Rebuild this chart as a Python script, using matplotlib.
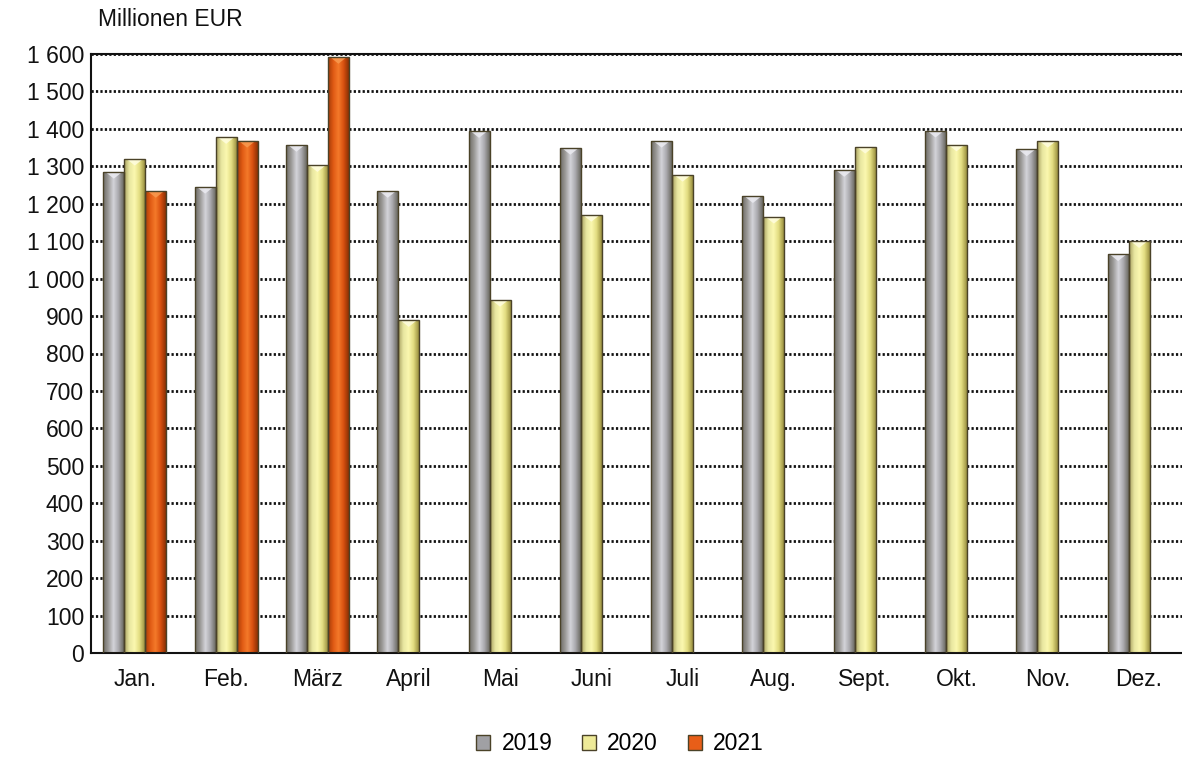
import numpy as np
import matplotlib
matplotlib.use("Agg")
import matplotlib.pyplot as plt
from matplotlib.colors import LinearSegmentedColormap
from matplotlib.patches import Patch, Polygon

months = ["Jan.", "Feb.", "März", "April", "Mai", "Juni", "Juli",
          "Aug.", "Sept.", "Okt.", "Nov.", "Dez."]
years = ["2019", "2020", "2021"]
v2019 = [1285, 1245, 1357, 1234, 1394, 1349, 1368, 1220, 1290, 1395, 1345, 1065]
v2020 = [1320, 1378, 1303, 889, 943, 1170, 1277, 1165, 1352, 1358, 1368, 1100]
v2021 = [1234, 1368, 1592]
yticks = list(range(0, 1601, 100))

# left-to-right shading for the 3D look of each series
shades = {
    "2019": ["#6e6c66", "#9c9a98", "#d4d4da", "#a8a8ac", "#6a6860"],
    "2020": ["#a8a060", "#e8e6a0", "#fbf8b0", "#e2dc80", "#9a9040"],
    "2021": ["#a43c08", "#e05a14", "#f47a2a", "#d85010", "#8a3004"],
}
bevel = {"2019": "#ececf2", "2020": "#fffde0", "2021": "#f89a50"}
base = {"2019": "#a0a0a4", "2020": "#eeea98", "2021": "#e85e18"}

plt.rcParams["font.family"] = ["Liberation Sans", "DejaVu Sans"]
fs = 16.5

fig = plt.figure(figsize=(11.82, 7.58), dpi=100)
ax = fig.add_axes([91 / 1182, 1 - 653 / 758, (1182 - 91) / 1182, (653 - 54) / 758])

x = np.arange(len(months))
w = 0.23
series = [("2019", v2019), ("2020", v2020), ("2021", v2021)]
grad = np.linspace(0, 1, 64).reshape(1, -1)
for i, (name, vals) in enumerate(series):
    xs = x[:len(vals)] + (i - 1) * w
    bars = ax.bar(xs, vals, width=w, color="none", edgecolor="#4a4228",
                  linewidth=1.0, zorder=4)
    cmap = LinearSegmentedColormap.from_list(name, shades[name])
    for b in bars:
        x0, y0 = b.get_x(), b.get_y()
        bw, bh = b.get_width(), b.get_height()
        im = ax.imshow(grad, cmap=cmap, aspect="auto", zorder=2,
                       extent=[x0, x0 + bw, y0, y0 + bh])
        im.set_clip_path(b)
        # small bevel at the top of the bar
        tri = Polygon([[x0 + bw * 0.1, bh], [x0 + bw * 0.9, bh],
                       [x0 + bw * 0.5, bh - 18]], closed=True,
                      facecolor=bevel[name], edgecolor="none", alpha=0.85, zorder=3)
        ax.add_patch(tri)

ax.set_xlim(-0.48, 11.47)
ax.set_ylim(0, 1600)
ax.set_yticks(yticks)
ax.set_yticklabels([f"{v:,}".replace(",", " ") for v in yticks], fontsize=fs)
ax.set_xticks(x)
ax.set_xticklabels(months, fontsize=fs)
ax.tick_params(axis="both", length=0, colors="#111111")
ax.tick_params(axis="y", pad=5)
ax.tick_params(axis="x", pad=11)

ax.set_axisbelow(True)
ax.yaxis.grid(True, linestyle=(0, (0.8, 0.8)), linewidth=2.0, color="#111111")
for s in ["left", "bottom", "top"]:
    ax.spines[s].set_color("#111111")
    ax.spines[s].set_linewidth(1.5)
ax.spines["right"].set_visible(False)

fig.text(98 / 1182, 1 - 20 / 758, "Millionen EUR", fontsize=fs,
         ha="left", va="center", color="#111111")

handles = [Patch(facecolor=base[y], edgecolor="#4a4228", label=y) for y in years]
fig.legend(handles=handles, loc="center", bbox_to_anchor=(620 / 1182, 1 - 744 / 758),
           ncol=3, frameon=False, fontsize=fs, handlelength=0.6, handleheight=0.6,
           handletextpad=0.5, columnspacing=1.3)

fig.savefig("out.png", dpi=100)
